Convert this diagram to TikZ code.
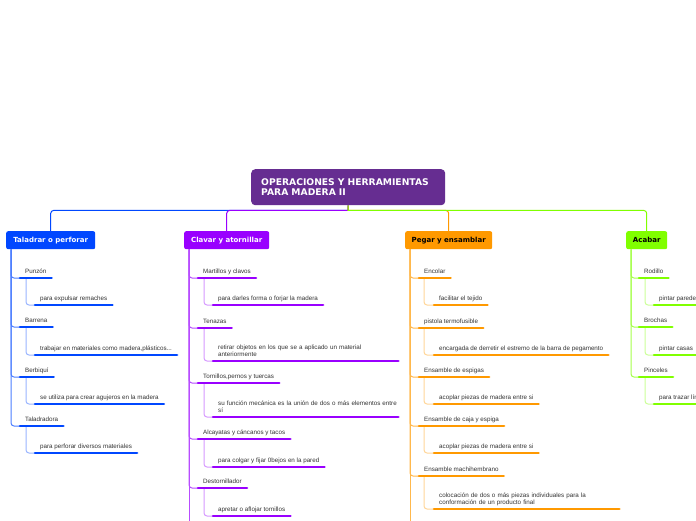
\documentclass[tikz,border=0pt]{standalone}
\usepackage{fontspec}
\setmainfont{Liberation Sans}
\newfontfamily\dvfont{DejaVu Sans}
\usetikzlibrary{calc}
\pgfdeclarelayer{background}
\pgfsetlayers{background,main}
\definecolor{rootc}{HTML}{662D91}
\definecolor{cblue}{HTML}{0047FF}
\definecolor{cpurple}{HTML}{9900FF}
\definecolor{corange}{HTML}{FF9900}
\definecolor{cgreen}{HTML}{80FF00}
\definecolor{txtgray}{HTML}{333333}
\newcommand\leaffont{\fontsize{6.25}{7.3}\selectfont\hyphenpenalty=10000 }
\newcommand\brfont{\dvfont\bfseries\fontsize{7}{8}\selectfont}
\newcommand\rootfont{\dvfont\bfseries\fontsize{9.2}{10.2}\selectfont}
\tikzset{
  leaf/.style={inner xsep=5pt, inner ysep=4.3pt, text depth=0pt, font=\leaffont, text=txtgray, align=left},
  twoline/.style={text width=175pt, text depth=7.3pt},
  uline/.style={draw=#1, line width=2.6pt, line cap=round},
  topline/.style={draw=#1, line width=1pt},
  mainline/.style={draw=#1!70!white, line width=1pt, rounded corners=3pt},
  subline/.style={draw=#1!40!white, line width=1pt, rounded corners=3pt},
  branch/.style={fill=#1, rounded corners=2pt, minimum height=18pt, inner xsep=0pt, inner ysep=0pt,
    text height=5.1pt, text depth=0pt, font=\brfont, anchor=north west},
  rootbox/.style={fill=rootc, rounded corners=4pt, minimum width=194pt, minimum height=36pt,
    inner xsep=10pt, text width=174pt, align=left, font=\rootfont, text=white, anchor=north west},
}
\newcommand\mmleaf[5][]{%
  \node[leaf,anchor=south west,#1] (#2) at (#4) {#5};
  \draw[uline=#3] (#2.south west) -- (#2.south east);}
\begin{document}
\begin{tikzpicture}[x=1pt,y=-1pt]
\useasboundingbox (0,0) rectangle (696,520);
\begin{pgfonlayer}{background}
\fill[white] (0,0) rectangle (696,520);
\end{pgfonlayer}
\clip (0,0) rectangle (696,520);

% root
\node[rootbox] (root) at (251,169) {OPERACIONES Y HERRAMIENTAS\\PARA MADERA II};

% branches
\node[branch=cblue, minimum width=89pt, text=white] (tal) at (6,231) {Taladrar o perforar};
\node[branch=cpurple, minimum width=85pt, text=white] (cla) at (184,231) {Clavar y atornillar};
\node[branch=corange, minimum width=87pt, text=black] (peg) at (405,231) {Pegar y ensamblar};
\node[branch=cgreen, minimum width=41pt, text=black] (aca) at (626,231) {Acabar};

% Taladrar
\mmleaf{t1}{cblue}{20,278}{Punzón}
\mmleaf{t1s}{cblue}{35,305}{para expulsar remaches}
\mmleaf{t2}{cblue}{20,327}{Barrena}
\mmleaf{t2s}{cblue}{35,355}{trabajar en materiales como madera,plásticos...}
\mmleaf{t3}{cblue}{20,377}{Berbiquí}
\mmleaf{t3s}{cblue}{35,404}{se utiliza para crear agujeros en la madera}
\mmleaf{t4}{cblue}{20,426}{Taladradora}
\mmleaf{t4s}{cblue}{35,453}{para perforar diversos materiales}

% Clavar
\mmleaf{c1}{cpurple}{198,278}{Martillos y clavos}
\mmleaf{c1s}{cpurple}{213,305}{para darles forma o forjar la madera}
\mmleaf{c2}{cpurple}{198,328}{Tenazas}
\mmleaf[twoline]{c2s}{cpurple}{213,361}{retirar objetos en los que se a aplicado un material\\anteriormente}
\mmleaf{c3}{cpurple}{198,383}{Tornillos,pernos y tuercas}
\mmleaf[twoline]{c3s}{cpurple}{213,417}{\makebox[175pt][l]{su función mecánica es la unión de dos o más elementos entre}\\sí}
\mmleaf{c4}{cpurple}{198,439}{Alcayatas y cáncanos y tacos}
\mmleaf{c4s}{cpurple}{213,467}{para colgar y fijar 0bejos en la pared}
\mmleaf{c5}{cpurple}{198,488}{Destornillador}
\mmleaf{c5s}{cpurple}{213,516}{apretar o aflojar tornillos}

% Pegar
\mmleaf{p1}{corange}{419,278}{Encolar}
\mmleaf{p1s}{corange}{434,305}{facilitar el tejido}
\mmleaf{p2}{corange}{419,328}{pistola termofusible}
\mmleaf{p2s}{corange}{434,355}{encargada de derretir el estremo de la barra de pegamento}
\mmleaf{p3}{corange}{419,377}{Ensamble de espigas}
\mmleaf{p3s}{corange}{434,404}{acoplar piezas de madera entre si}
\mmleaf{p4}{corange}{419,426}{Ensamble de caja y espiga}
\mmleaf{p4s}{corange}{434,453}{acoplar piezas de madera entre si}
\mmleaf{p5}{corange}{419,476}{Ensamble machihembrano}
\mmleaf[twoline]{p5s}{corange}{434,509}{colocación de dos o más piezas individuales para la\\conformación de un producto final}

% Acabar
\mmleaf{a1}{cgreen}{639,278}{Rodillo}
\mmleaf{a1s}{cgreen}{654,305}{pintar paredes}
\mmleaf{a2}{cgreen}{639,327}{Brochas}
\mmleaf{a2s}{cgreen}{654,355}{pintar casas}
\mmleaf{a3}{cgreen}{639,377}{Pinceles}
\mmleaf{a3s}{cgreen}{654,404}{para trazar líneas}

\coordinate (claend) at (189,530);
\coordinate (pegend) at (410,530);

\begin{pgfonlayer}{background}
% top connectors
\draw[topline=cblue] (root.south) -- ++(0,5) [rounded corners=3pt] -| (tal.north);
\draw[topline=cpurple] (root.south) -- ++(0,5) [rounded corners=3pt] -| (cla.north);
\draw[topline=corange] (root.south) -- ++(0,5) [rounded corners=3pt] -| (peg.north);
\draw[topline=cgreen] (root.south) -- ++(0,5) [rounded corners=3pt] -| (aca.north);

% main lines
\foreach \n in {t1,t2,t3,t4}{\draw[mainline=cblue] ([xshift=5pt]tal.south west) |- (\n.south west);}
\foreach \n in {c1,c2,c3,c4,c5}{\draw[mainline=cpurple] ([xshift=5pt]cla.south west) |- (\n.south west);}
\draw[mainline=cpurple] ([xshift=5pt]cla.south west) -- (claend);
\foreach \n in {p1,p2,p3,p4,p5}{\draw[mainline=corange] ([xshift=5pt]peg.south west) |- (\n.south west);}
\draw[mainline=corange] ([xshift=5pt]peg.south west) -- (pegend);
\foreach \n in {a1,a2,a3}{\draw[mainline=cgreen] ([xshift=5pt]aca.south west) |- (\n.south west);}

% sub lines
\foreach \n in {t1,t2,t3,t4}{\draw[subline=cblue] ([xshift=6pt]\n.south west) |- (\n s.south west);}
\foreach \n in {c1,c2,c3,c4,c5}{\draw[subline=cpurple] ([xshift=6pt]\n.south west) |- (\n s.south west);}
\foreach \n in {p1,p2,p3,p4,p5}{\draw[subline=corange] ([xshift=5pt]\n.south west) |- (\n s.south west);}
\foreach \n in {a1,a2,a3}{\draw[subline=cgreen] ([xshift=6pt]\n.south west) |- (\n s.south west);}
\end{pgfonlayer}
\end{tikzpicture}
\end{document}
